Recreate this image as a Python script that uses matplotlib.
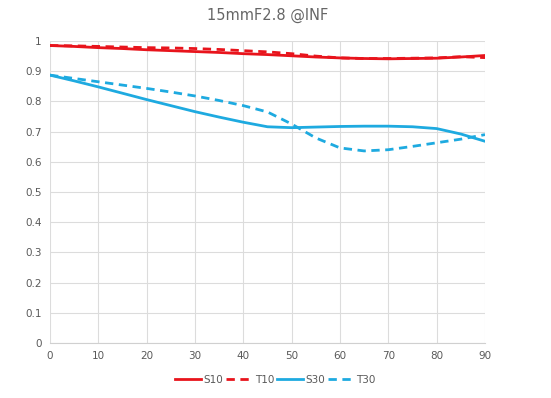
import matplotlib
matplotlib.use('Agg')
from matplotlib import pyplot as plt

angles = [0, 5, 10, 15, 20, 25, 30, 35, 40, 45, 50, 55, 60, 65, 70, 75, 80, 85, 90]
s10 = [0.985, 0.982, 0.978, 0.975, 0.971, 0.968, 0.965, 0.962, 0.958, 0.955, 0.951, 0.947,
       0.944, 0.942, 0.941, 0.942, 0.943, 0.947, 0.952]
t10 = [0.985, 0.984, 0.982, 0.980, 0.978, 0.977, 0.975, 0.972, 0.968, 0.964, 0.958, 0.950,
       0.944, 0.942, 0.942, 0.943, 0.944, 0.948, 0.945]
s30 = [0.887, 0.868, 0.848, 0.827, 0.806, 0.786, 0.766, 0.748, 0.731, 0.716, 0.713, 0.715,
       0.717, 0.718, 0.718, 0.716, 0.710, 0.692, 0.668]
t30 = [0.887, 0.876, 0.865, 0.854, 0.843, 0.831, 0.818, 0.803, 0.786, 0.765, 0.725, 0.679,
       0.646, 0.636, 0.640, 0.651, 0.663, 0.675, 0.690]

red = '#e8141c'
blue = '#1eaae0'

fig = plt.figure(figsize=(5.51, 3.98), dpi=100)
ax = fig.add_axes([50 / 551, 1 - 343 / 398, 435 / 551, 302 / 398])

ax.plot(angles, s10, c=red, lw=2.0, label='S10')
ax.plot(angles, t10, c=red, lw=2.0, ls=(0, (3, 2)), label='T10')
ax.plot(angles, s30, c=blue, lw=2.0, label='S30')
ax.plot(angles, t30, c=blue, lw=2.0, ls=(0, (3, 2)), label='T30')

ax.set_xlim(0, 90)
ax.set_ylim(0, 1)
ax.set_xticks(range(0, 91, 10))
ax.set_yticks([i / 10 for i in range(11)])
ax.set_yticklabels(['0', '0.1', '0.2', '0.3', '0.4', '0.5', '0.6', '0.7', '0.8', '0.9', '1'])
ax.grid(True, color='#dcdcdc', lw=0.8)
ax.set_axisbelow(True)
for s in ['top', 'right', 'left']:
    ax.spines[s].set_visible(False)
ax.spines['bottom'].set_color('#d0d0d0')
ax.tick_params(length=0, labelsize=7.5, colors='#595959', pad=6)

ax.set_title('15mmF2.8 @INF', fontsize=10.5, color='#666666', pad=15.5)
fig.legend(loc='lower center', bbox_to_anchor=(0.5, 0.01), ncol=4, frameon=False,
           fontsize=7.5, handlelength=2.5, handletextpad=0.2, columnspacing=0.3,
           labelcolor='#595959')

plt.savefig('out.png')
